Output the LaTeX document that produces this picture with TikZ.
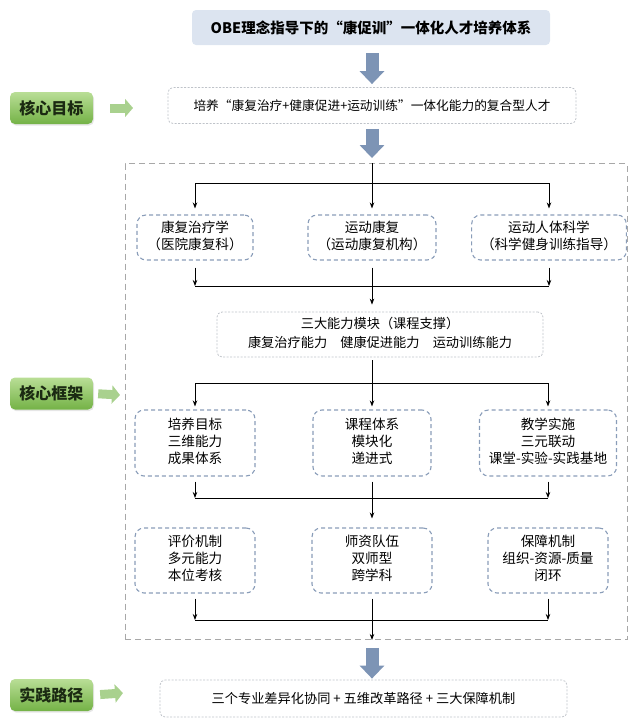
\documentclass[tikz,border=0pt]{standalone}
\usepackage{fontspec}
\setmainfont{Noto Sans CJK SC}
\usepackage{tikz}
\usetikzlibrary{calc}
\usetikzlibrary{shadows}
\usetikzlibrary{positioning, arrows.meta}

\definecolor{titlefill}{HTML}{DCE4F0}
\definecolor{arrowblue}{HTML}{7D94B5}
\definecolor{tagtop}{HTML}{B9DE96}
\definecolor{tagbottom}{HTML}{74B246}
\definecolor{tagtext}{HTML}{1B2A12}
\definecolor{greenhead}{HTML}{A9D18E}
\definecolor{unitline}{HTML}{8A9DB9}
\definecolor{thinline}{HTML}{BFC3C9}
\definecolor{frameline}{HTML}{A8A8A8}

\begin{document}
\begin{tikzpicture}[x=1pt, y=-1pt]
        \useasboundingbox (0,0) rectangle (629,721);
        % Define styles for shapes
        \tikzstyle{titlebox} = [fill=titlefill, rounded corners=4pt, minimum width=358pt, minimum height=35pt, font=\fontsize{14.5}{17}\selectfont\bfseries]
        \tikzstyle{tagbox} = [rounded corners=5pt, top color=tagtop, bottom color=tagbottom, minimum width=83pt, minimum height=32pt, text=tagtext, font=\fontsize{16}{19}\selectfont\bfseries, drop shadow={shadow xshift=1pt, shadow yshift=-1.5pt, opacity=0.2}]
        \tikzstyle{thinbox} = [draw=thinline, dash pattern=on 2pt off 1.5pt, line width=0.8pt, rounded corners=5pt, minimum height=36pt, font=\fontsize{13.2}{19}\selectfont]
        \tikzstyle{unitbox} = [draw=unitline, dash pattern=on 4pt off 3pt, line width=1.1pt, rounded corners=9pt, font=\fontsize{13.6}{17}\selectfont]
        \tikzstyle{outerframe} = [draw=frameline, dash pattern=on 6pt off 4pt, line width=0.9pt, minimum width=502pt, minimum height=476pt]
        \tikzstyle{link} = [-{Stealth[length=6pt, width=4.5pt]}, line width=0.8pt]
        \tikzstyle{bigarrow} = [draw=arrowblue, line width=13pt, -{Triangle[width=24pt, length=13pt]}]
        \tikzstyle{greenarrow} = [draw=greenhead, line width=9pt, -{Triangle[width=18pt, length=8pt]}]

        % Draw shapes
        \node[titlebox] (title) at (371, 27.5) {OBE理念指导下的“康促训”一体化人才培养体系};
        \node[thinbox, minimum width=408pt, font=\fontsize{12.7}{15}\selectfont] (goal) at (372, 105.5) {培养“康复治疗+健康促进+运动训练”一体化能力的复合型人才};
        \node[outerframe] (frame) at (376, 401.5) {};

        \node[tagbox] (tag1) at (51.5, 108) {核心目标};
        \node[tagbox] (tag2) at (51.5, 393.5) {核心框架};
        \node[tagbox] (tag3) at (51.5, 695) {实践路径};

        \node[unitbox, minimum width=116pt, minimum height=45pt] (k1) at (195, 237.5) {
            \begin{tabular}{c}
                康复治疗学 \\
                （医院康复科） \\
            \end{tabular}
        };
        \node[unitbox, minimum width=128pt, minimum height=45pt] (k2) at (372, 237.5) {
            \begin{tabular}{c}
                运动康复 \\
                （运动康复机构） \\
            \end{tabular}
        };
        \node[unitbox, minimum width=138pt, minimum height=45pt] (k3) at (549, 237.5) {
            \begin{tabular}{c}
                运动人体科学 \\
                （科学健身训练指导） \\
            \end{tabular}
        };

        \node[thinbox, minimum width=326pt, minimum height=45pt] (mod) at (380, 334.5) {
            \begin{tabular}{c}
                三大能力模块（课程支撑） \\
                康复治疗能力\quad 健康促进能力\quad 运动训练能力 \\
            \end{tabular}
        };

        \node[unitbox, minimum width=120pt, minimum height=66pt] (b1) at (195, 443) {
            \begin{tabular}{c}
                培养目标 \\
                三维能力 \\
                成果体系 \\
            \end{tabular}
        };
        \node[unitbox, minimum width=118pt, minimum height=66pt] (b2) at (372, 443) {
            \begin{tabular}{c}
                课程体系 \\
                模块化 \\
                递进式 \\
            \end{tabular}
        };
        \node[unitbox, minimum width=137pt, minimum height=66pt] (b3) at (548, 443) {
            \begin{tabular}{c}
                教学实施 \\
                三元联动 \\
                课堂-实验-实践基地 \\
            \end{tabular}
        };

        \node[unitbox, minimum width=120pt, minimum height=65pt] (c1) at (195, 560.5) {
            \begin{tabular}{c}
                评价机制 \\
                多元能力 \\
                本位考核 \\
            \end{tabular}
        };
        \node[unitbox, minimum width=120pt, minimum height=65pt] (c2) at (372, 560.5) {
            \begin{tabular}{c}
                师资队伍 \\
                双师型 \\
                跨学科 \\
            \end{tabular}
        };
        \node[unitbox, minimum width=120pt, minimum height=65pt] (c3) at (548, 560.5) {
            \begin{tabular}{c}
                保障机制 \\
                组织-资源-质量 \\
                闭环 \\
            \end{tabular}
        };

        \node[thinbox, minimum width=407pt, minimum height=37pt] (path) at (363.5, 698.5) {三个专业差异化协同 + 五维改革路径 + 三大保障机制};

        % Branch points
        \coordinate (s1) at (372, 183);
        \coordinate (j1) at (372, 286);
        \coordinate (s2) at (372, 383);
        \coordinate (j2) at (372, 498);
        \coordinate (j3) at (372, 620);
        \coordinate (g1) at (133, 108);
        \coordinate (g2) at (120, 395);
        \coordinate (g3) at (123, 693);

        % Draw arrows
        \draw[bigarrow, shorten <=8pt, shorten >=3pt] (title.south -| goal.north) -- (goal.north);
        \draw[bigarrow, shorten <=5pt, shorten >=5pt] (goal.south) -- (goal.south |- frame.north);
        \draw[bigarrow, shorten <=8pt, shorten >=1pt] (s1 |- frame.south) -- (s1 |- path.north);

        \draw[greenarrow, shorten <=17pt] (tag1.east) -- (g1);
        \draw[greenarrow, shorten <=5pt] (tag2.east) -- (g2);
        \draw[greenarrow, shorten <=7pt] (tag3.east) -- (g3);

        \draw[line width=0.8pt] (s1 |- frame.north) -- (s1);
        \draw[link, shorten >=6pt] (s1) -| (k1);
        \draw[link, shorten >=6pt] (s1) -- (k2);
        \draw[link, shorten >=6pt] (s1) -| (k3);

        \draw[link, shorten <=7pt] (k1) -- (k1 |- j1);
        \draw[link, shorten <=7pt] (k3) -- (k3 |- j1);
        \draw[line width=0.8pt] (k1 |- j1) -- (k3 |- j1);
        \draw[link, shorten <=7pt, shorten >=7pt] (k2) -- (k2 |- mod.north);

        \draw[line width=0.8pt, shorten <=3pt] (s2 |- mod.south) -- (s2);
        \draw[link, shorten >=3pt] (s2) -| (b1);
        \draw[link, shorten >=3pt] (s2) -- (b2);
        \draw[link, shorten >=3pt] (s2) -| (b3);

        \draw[link, shorten <=5pt] (b1) -- (b1 |- j2);
        \draw[link, shorten <=5pt] (b3) -- (b3 |- j2);
        \draw[line width=0.8pt] (b1 |- j2) -- (b3 |- j2);
        \draw[link, shorten <=5pt, shorten >=9pt] (b2) -- (b2 |- c2.north);

        \draw[link, shorten <=5pt] (c1) -- (c1 |- j3);
        \draw[link, shorten <=5pt] (c3) -- (c3 |- j3);
        \draw[line width=0.8pt] (c1 |- j3) -- (c3 |- j3);
        \draw[link, shorten <=5pt] (c2) -- (c2 |- frame.south);
\end{tikzpicture}
\end{document}
